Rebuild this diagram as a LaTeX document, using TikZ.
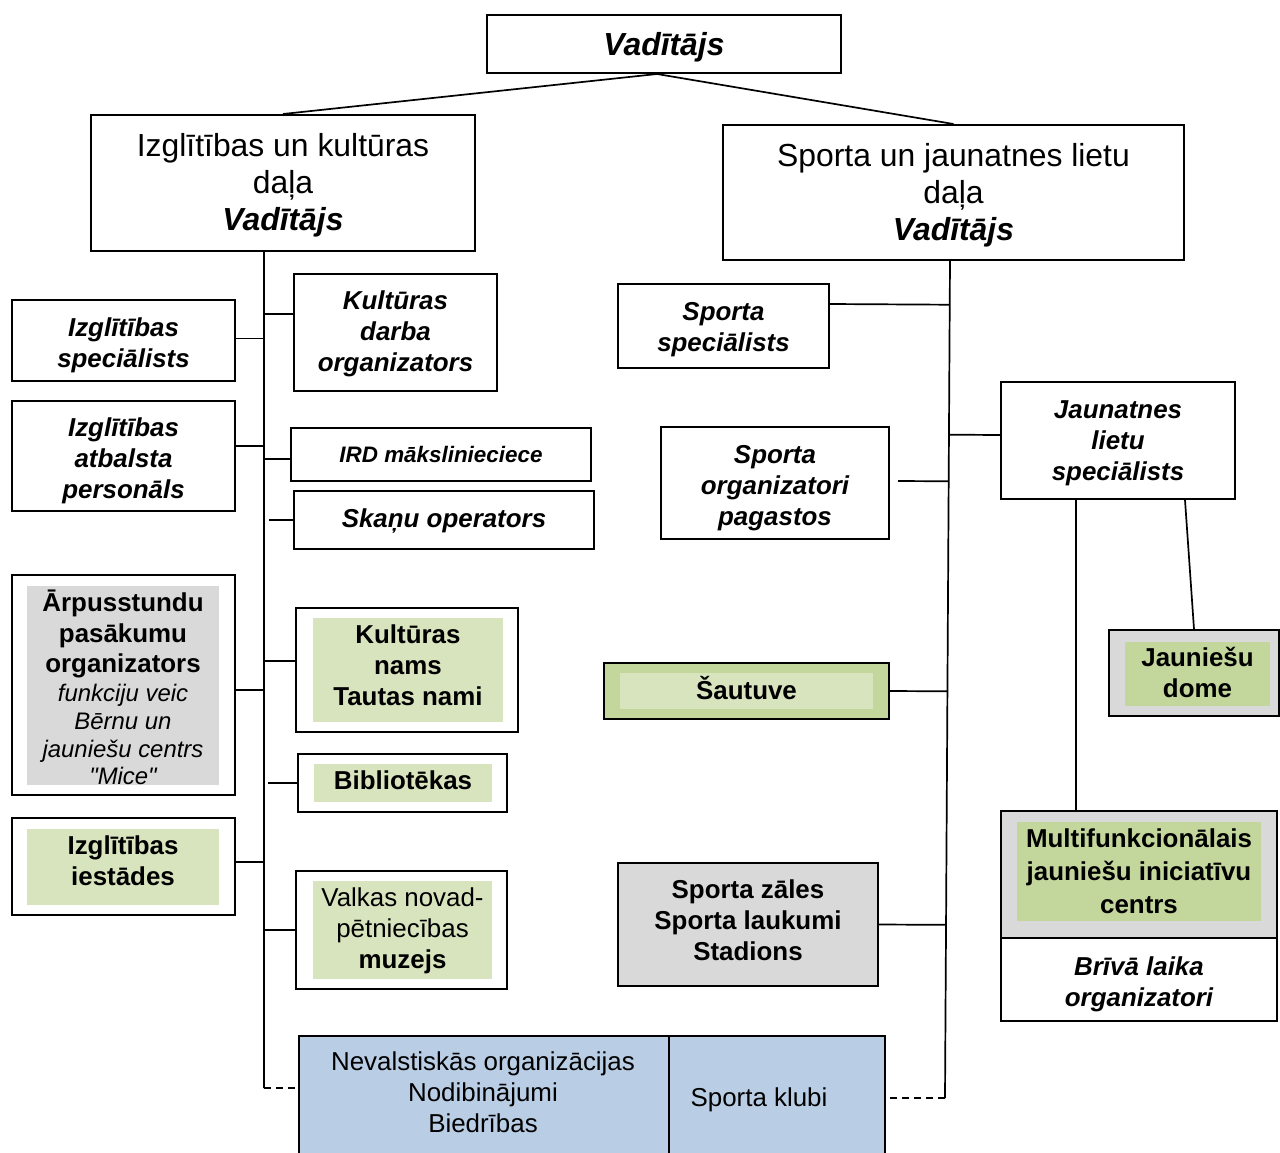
\documentclass[tikz,border=0pt]{standalone}
\usepackage{fontspec}
\setmainfont{Liberation Sans}[Ligatures=TeXOff]
\usetikzlibrary{calc}
\definecolor{lgreen}{HTML}{D7E4BD}
\definecolor{dgreen}{HTML}{C3D69B}
\definecolor{lgray}{HTML}{D9D9D9}
\definecolor{lblue}{HTML}{B9CDE5}
\tikzset{
 bx/.style={draw=black, line width=2bp, fill=white, inner sep=0pt, align=center},
 fl/.style={inner sep=0pt, fill=#1},
 tx/.style={inner sep=0pt, align=center},
 ln/.style={line width=1.7bp},
 dl/.style={line width=1.7bp, dash pattern=on 7bp off 5bp},
 fa/.style={font=\fontsize{26}{31}\selectfont},
 fbi/.style={font=\fontsize{26}{31}\selectfont\bfseries\itshape},
 fb/.style={font=\fontsize{26}{31}\selectfont\bfseries},
 fdept/.style={font=\fontsize{32}{37}\selectfont},
}
\begin{document}
\begin{tikzpicture}[x=1bp,y=-1bp]
\clip (0,0) rectangle (1280,1153);
\fill[white] (0,0) rectangle (1280,1153);

% top
\node[bx, minimum width=354bp, minimum height=58bp] (top) at (664,44) {};
\node[tx, font=\fontsize{32}{37}\selectfont\bfseries\itshape] (topt) at ([yshift=-3bp]top.center) {Vadītājs};
\node[bx, minimum width=384bp, minimum height=136bp] (lk) at (283,183) {};
\node[tx, fdept] (lkt) at ([yshift=-2bp]lk.center) {Izglītības un kultūras\\daļa\\\textbf{\textit{Vadītājs}}};
\node[bx, minimum width=461bp, minimum height=135bp] (rk) at (953.5,192.5) {};
\node[tx, fdept] (rkt) at ([yshift=-3bp]rk.center) {Sporta un jaunatnes lietu\\daļa\\\textbf{\textit{Vadītājs}}};

% left column
\node[bx, minimum width=223bp, minimum height=81bp] (izs) at (123.5,340.5) {};
\node[tx, fbi] (izst) at ([yshift=-5bp]izs.center) {Izglītības\\speciālists};
\node[bx, minimum width=223bp, minimum height=110bp] (iza) at (123.5,456) {};
\node[tx, fbi] (izat) at ([yshift=-5bp]iza.center) {Izglītības\\atbalsta\\personāls};
\node[bx, minimum width=223bp, minimum height=220bp] (arp) at (123.5,685) {};
\node[fl=lgray, minimum width=192bp, minimum height=199bp] (arpi) at (123,685.5) {};
\node[tx, fb] (arpt1) at (123,634) {Ārpusstundu\\pasākumu\\organizators};
\node[tx, font=\fontsize{24}{28}\selectfont\itshape] (arpt2) at (123,734.5) {funkciju veic\\Bērnu un\\jauniešu centrs\\"Mice"};
\node[bx, minimum width=223bp, minimum height=97bp] (izi) at (123.5,866.5) {};
\node[fl=lgreen, minimum width=192bp, minimum height=76bp] (izii) at (123,867) {};
\node[tx, fb] (izit) at (123,861) {Izglītības\\iestādes};

% middle-left column
\node[bx, minimum width=203bp, minimum height=117bp] (kdo) at (395.5,332.5) {};
\node[tx, fbi] (kdot) at ([yshift=-1bp]kdo.center) {Kultūras\\darba\\organizators};
\node[bx, minimum width=300bp, minimum height=53bp] (ird) at (441,454) {};
\node[tx, font=\fontsize{22.5}{27}\selectfont\bfseries\itshape] (irdt) at (ird.center) {IRD mākslinieciece};
\node[bx, minimum width=300bp, minimum height=58bp] (sko) at (444,520) {};
\node[tx, fbi] (skot) at ([yshift=-1bp]sko.center) {Skaņu operators};
\node[bx, minimum width=222bp, minimum height=124bp] (kn) at (407,670) {};
\node[fl=lgreen, minimum width=190bp, minimum height=104bp] (kni) at (408,670) {};
\node[tx, fb] (knt) at (408,665.5) {Kultūras\\nams\\Tautas nami};
\node[bx, minimum width=209bp, minimum height=58bp] (bib) at (402.5,783) {};
\node[fl=lgreen, minimum width=178bp, minimum height=38bp] (bibi) at (403,783) {};
\node[tx, fb] (bibt) at (403,780) {Bibliotēkas};
\node[bx, minimum width=211bp, minimum height=118bp] (muz) at (401.5,930) {};
\node[fl=lgreen, minimum width=179bp, minimum height=98bp] (muzi) at (402.5,930) {};
\node[tx, fa] (muzt) at (402.5,931) {Valkas novad-\\pētniecības\\\textbf{muzejs}};

% bottom
\node[draw=black, line width=1.5bp, fill=lblue, inner sep=0pt, minimum width=370bp, minimum height=130bp, anchor=north west] (ngo) at (298,1035) {};
\node[tx, fa] (ngot) at (483,1092) {Nevalstiskās organizācijas\\Nodibinājumi\\Biedrības};
\node[draw=black, line width=1.5bp, fill=lblue, inner sep=0pt, minimum width=216bp, minimum height=130bp, anchor=north west] (skl) at (668,1035) {};
\node[tx, fa] (sklt) at (759,1100) {Sporta klubi};

% right side
\node[bx, minimum width=211bp, minimum height=84bp] (ssp) at (723.5,326) {};
\node[tx, fbi] (sspt) at ([yshift=-4bp]ssp.center) {Sporta\\speciālists};
\node[bx, minimum width=228bp, minimum height=112bp] (sop) at (775,483) {};
\node[tx, fbi] (sopt) at ([yshift=-5bp]sop.center) {Sporta\\organizatori\\pagastos};
\node[bx, minimum width=234bp, minimum height=117bp] (jls) at (1118,440.5) {};
\node[tx, fbi] (jlst) at ([yshift=-2.5bp]jls.center) {Jaunatnes\\lietu\\speciālists};
\node[draw=black, line width=2bp, fill=dgreen, inner sep=0pt, minimum width=285bp, minimum height=56bp] (sau) at (746.5,691) {};
\node[fl=lgreen, minimum width=253bp, minimum height=36bp] (saui) at (746.5,691) {};
\node[tx, fb] (saut) at (746.5,688) {Šautuve};
\node[bx, fill=lgray, minimum width=260bp, minimum height=123bp] (szs) at (748,924.5) {};
\node[tx, fb] (szst) at (748,920.5) {Sporta zāles\\Sporta laukumi\\Stadions};
\node[bx, fill=lgray, minimum width=170bp, minimum height=86bp] (jd) at (1194,673) {};
\node[fl=dgreen, minimum width=145bp, minimum height=64bp] (jdi) at (1197.5,674) {};
\node[tx, fb] (jdt) at (1197.5,672.5) {Jauniešu\\dome};
\node[bx, fill=lgray, minimum width=276bp, minimum height=127bp] (mf) at (1139,874.5) {};
\node[fl=dgreen, minimum width=244bp, minimum height=99bp] (mfi) at (1139,871.5) {};
\node[tx, font=\fontsize{26}{33}\selectfont\bfseries] (mft) at (1139,871.5) {Multifunkcionālais\\jauniešu iniciatīvu\\centrs};
\node[bx, minimum width=276bp, minimum height=83bp] (blo) at (1139,979.5) {};
\node[tx, fbi] (blot) at ([yshift=-5bp]blo.center) {Brīvā laika\\organizatori};

% top connectors
\coordinate (tv) at ([xshift=-7bp]top.south);
\draw[ln] (tv) -- (lk.north);
\draw[ln] (tv) -- (rk.north);

% left trunk
\coordinate (lt1) at ([xshift=-19bp]lk.south);
\coordinate (lt2) at (264,1088);
\draw[ln] (lt1) -- (lt2);
\draw[dl] (lt2) -- (lt2 -| ngo.west);

\coordinate (a0) at ([yshift=2bp]izs.east);
\draw[ln] (a0) -- (a0 -| lt1);
\coordinate (a1) at ([yshift=10bp]iza.east);
\draw[ln] (a1) -- (a1 -| lt1);
\coordinate (a2) at ([yshift=-5bp]arp.east);
\draw[ln] (a2) -- (a2 -| lt1);
\coordinate (a3) at ([yshift=4.5bp]izi.east);
\draw[ln] (a3) -- (a3 -| lt1);
\coordinate (b1) at ([yshift=18.5bp]kdo.west);
\draw[ln] (b1) -- (b1 -| lt1);
\coordinate (b2) at ([yshift=-5bp]ird.west);
\draw[ln] (b2) -- (b2 -| lt1);
\draw[ln] (sko.west) -- ++(-24,0);
\coordinate (b3) at ([yshift=9bp]kn.west);
\draw[ln] (b3) -- (b3 -| lt1);
\draw[ln] (bib.west) -- ++(-29,0);
\draw[ln] (muz.west) -- (muz.west -| lt1);

% right trunk
\coordinate (rt1) at ([xshift=-3.5bp]rk.south);
\coordinate (rt2) at (945,1098);
\draw[ln] (rt1) -- (rt2);
\draw[dl] (rt2) -- (rt2 -| skl.east);

\coordinate (s1) at ([yshift=22bp]ssp.east);
\draw[ln] (s1) -- ($(rt1)!(s1)!(rt2)$);
\coordinate (s2) at ([yshift=5.5bp]jls.west);
\draw[ln] (s2) -- ($(rt1)!(s2)!(rt2)$);
\coordinate (s3) at ([xshift=8bp,yshift=2bp]sop.east);
\draw[ln] (s3) -- ($(rt1)!(s3)!(rt2)$);
\draw[ln] (sau.east) -- ($(rt1)!(sau.east)!(rt2)$);
\draw[ln] (szs.east) -- ($(rt1)!(szs.east)!(rt2)$);

% youth connectors
\coordinate (j1) at ([xshift=-42bp]jls.south);
\draw[ln] (j1) -- (j1 |- mf.north);
\coordinate (j2) at ([xshift=67bp]jls.south);
\draw[ln] (j2) -- (jd.north);
\end{tikzpicture}
\end{document}
